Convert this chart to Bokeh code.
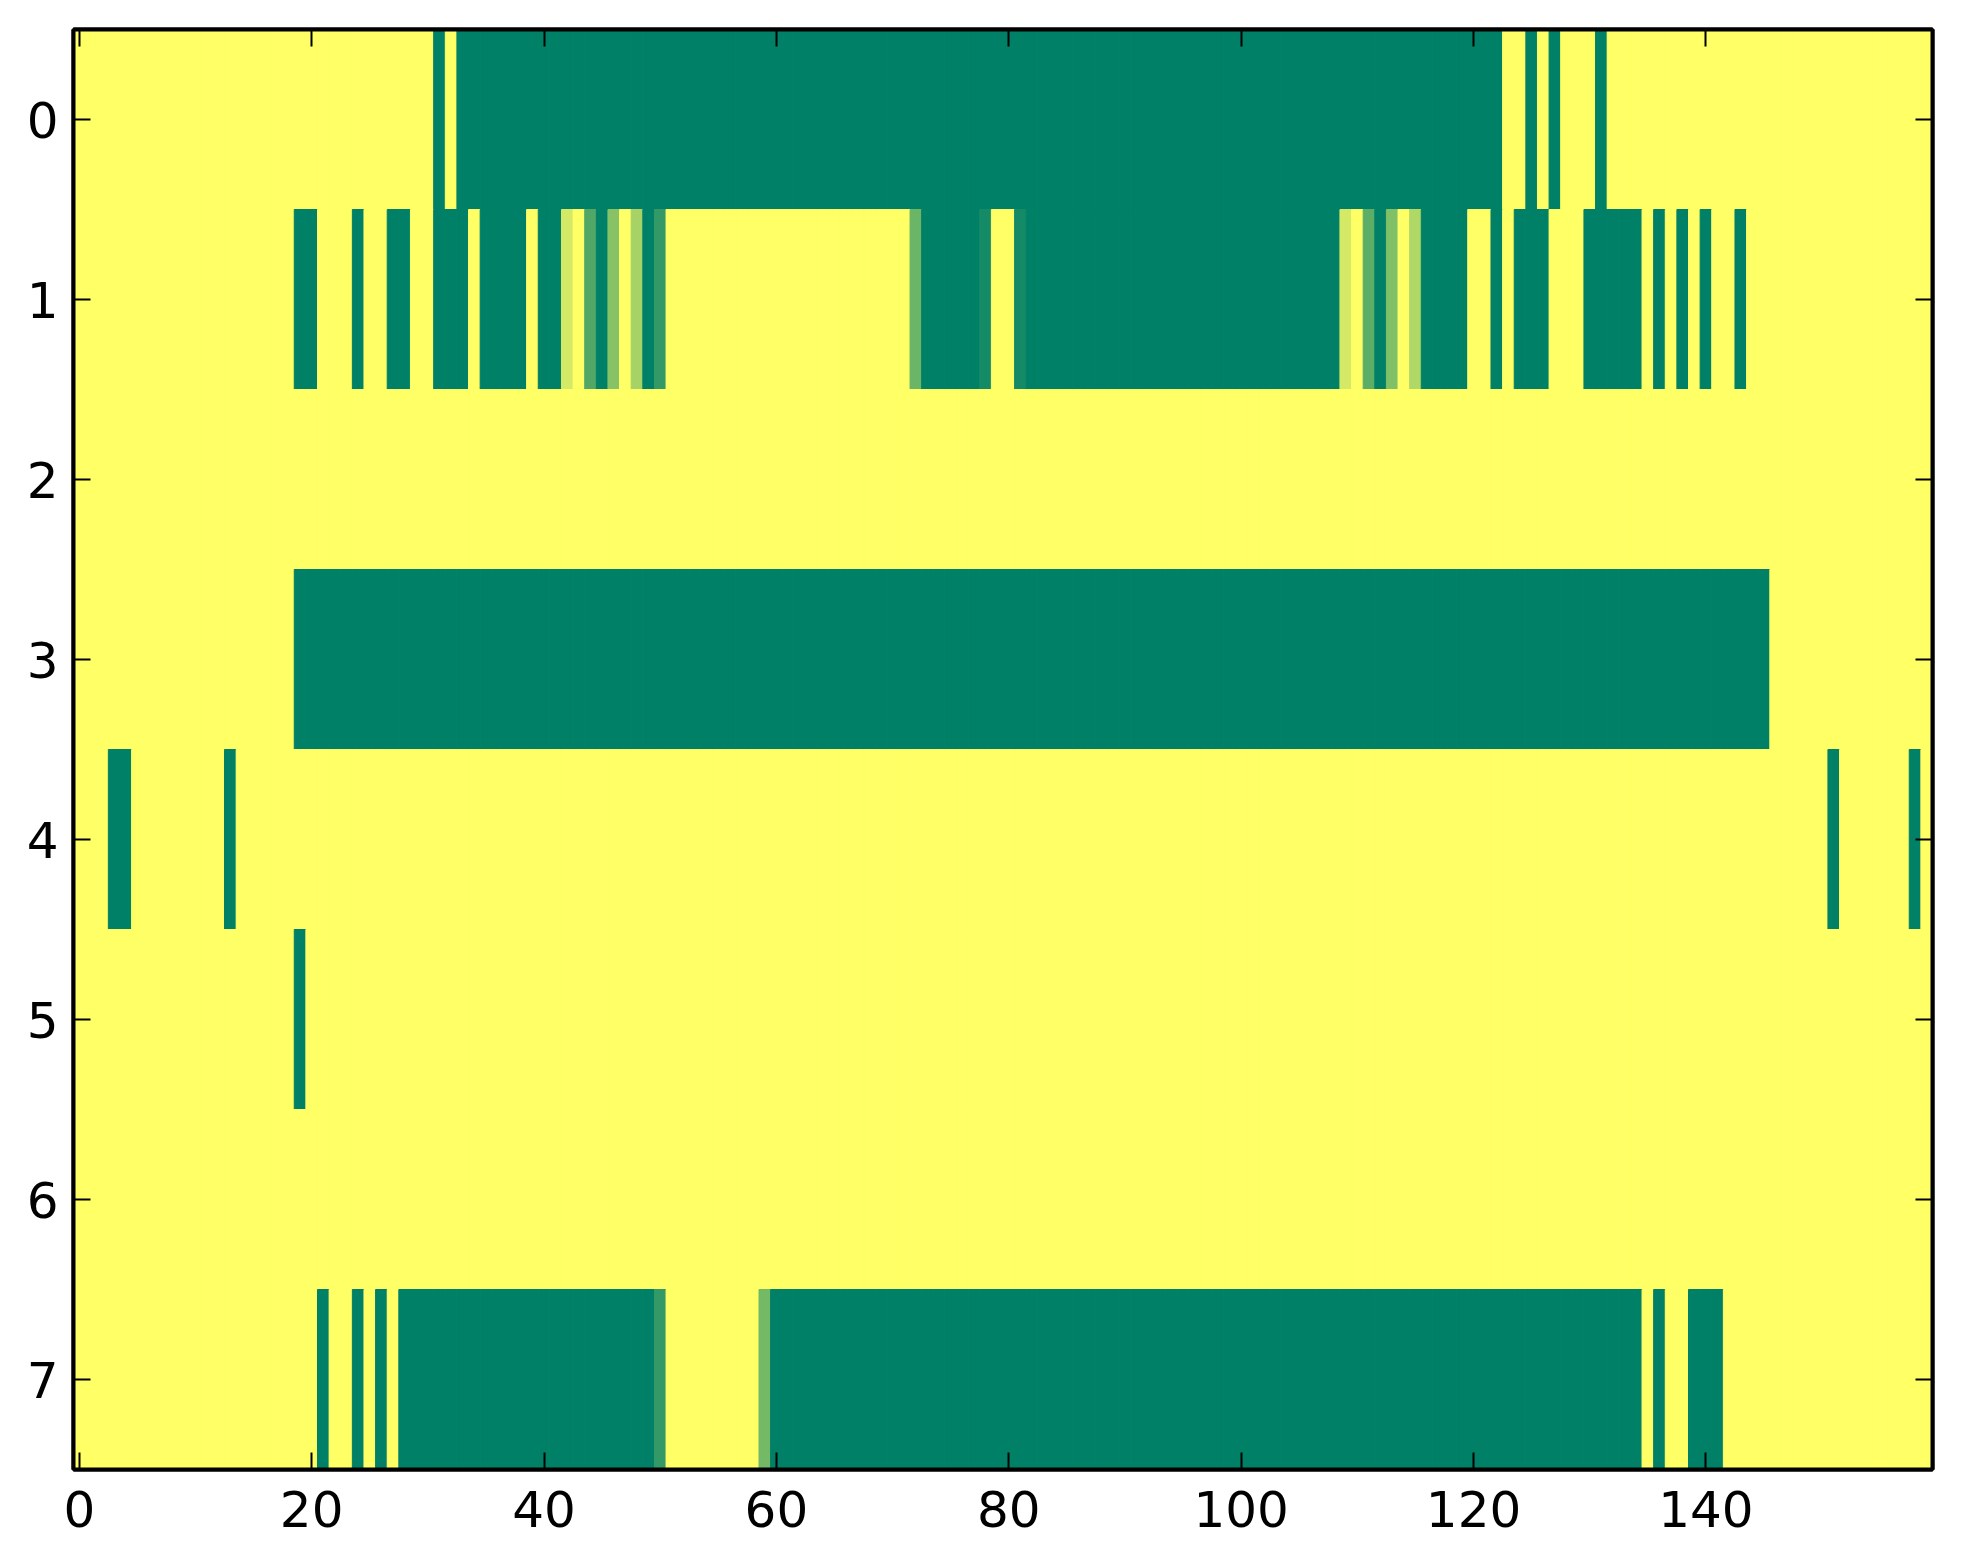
from bokeh.plotting import figure
from bokeh.models import Range1d, LinearAxis, FixedTicker, ColumnDataSource, LinearColorMapper
from bokeh.transform import transform
from bokeh.embed import file_html
from bokeh.resources import INLINE

# ---- data: 8 rows x 160 columns (values 0..1) ----
row0 = [1,1,1,1,1,1,1,1,1,1,1,1,1,1,1,1,1,1,1,1,
        1,1,1,1,1,1,1,1,1,1,1,0,1,0,0,0,0,0,0,0,
        0,0,0,0,0,0,0,0,0,0,0,0,0,0,0,0,0,0,0,0,
        0,0,0,0,0,0,0,0,0,0,0,0,0,0,0,0,0,0,0,0,
        0,0,0,0,0,0,0,0,0,0,0,0,0,0,0,0,0,0,0,0,
        0,0,0,0,0,0,0,0,0,0,0,0,0,0,0,0,0,0,0,0,
        0,0,0,1,1,0,1,0,1,1,1,0,1,1,1,1,1,1,1,1,
        1,1,1,1,1,1,1,1,1,1,1,1,1,1,1,1,1,1,1,1]
row1 = [1,1,1,1,1,1,1,1,1,1,1,1,1,1,1,1,1,1,1,0,
        0,1,1,1,0,1,1,0,0,1,1,0,0,0,1,0,0,0,0,1,
        0,0,0.83,1,0.32,0,0.53,1,0.65,0,0.2,1,1,1,1,1,1,1,1,1,
        1,1,1,1,1,1,1,1,1,1,1,1,0.42,0,0,0,0,0,0.08,1,
        1,0.08,0,0,0,0,0,0,0,0,0,0,0,0,0,0,0,0,0,0,
        0,0,0,0,0,0,0,0,0,0.83,1,0.36,0,0.5,1,0.69,0,0,0,0,
        1,1,0,1,0,0,0,1,1,1,0,0,0,0,0,1,0,1,0,1,
        0,1,1,0,1,1,1,1,1,1,1,1,1,1,1,1,1,1,1,1]
row2 = [1,1,1,1,1,1,1,1,1,1,1,1,1,1,1,1,1,1,1,1,
        1,1,1,1,1,1,1,1,1,1,1,1,1,1,1,1,1,1,1,1,
        1,1,1,1,1,1,1,1,1,1,1,1,1,1,1,1,1,1,1,1,
        1,1,1,1,1,1,1,1,1,1,1,1,1,1,1,1,1,1,1,1,
        1,1,1,1,1,1,1,1,1,1,1,1,1,1,1,1,1,1,1,1,
        1,1,1,1,1,1,1,1,1,1,1,1,1,1,1,1,1,1,1,1,
        1,1,1,1,1,1,1,1,1,1,1,1,1,1,1,1,1,1,1,1,
        1,1,1,1,1,1,1,1,1,1,1,1,1,1,1,1,1,1,1,1]
row3 = [1,1,1,1,1,1,1,1,1,1,1,1,1,1,1,1,1,1,1,0,
        0,0,0,0,0,0,0,0,0,0,0,0,0,0,0,0,0,0,0,0,
        0,0,0,0,0,0,0,0,0,0,0,0,0,0,0,0,0,0,0,0,
        0,0,0,0,0,0,0,0,0,0,0,0,0,0,0,0,0,0,0,0,
        0,0,0,0,0,0,0,0,0,0,0,0,0,0,0,0,0,0,0,0,
        0,0,0,0,0,0,0,0,0,0,0,0,0,0,0,0,0,0,0,0,
        0,0,0,0,0,0,0,0,0,0,0,0,0,0,0,0,0,0,0,0,
        0,0,0,0,0,0,1,1,1,1,1,1,1,1,1,1,1,1,1,1]
row4 = [1,1,1,0,0,1,1,1,1,1,1,1,1,0,1,1,1,1,1,1,
        1,1,1,1,1,1,1,1,1,1,1,1,1,1,1,1,1,1,1,1,
        1,1,1,1,1,1,1,1,1,1,1,1,1,1,1,1,1,1,1,1,
        1,1,1,1,1,1,1,1,1,1,1,1,1,1,1,1,1,1,1,1,
        1,1,1,1,1,1,1,1,1,1,1,1,1,1,1,1,1,1,1,1,
        1,1,1,1,1,1,1,1,1,1,1,1,1,1,1,1,1,1,1,1,
        1,1,1,1,1,1,1,1,1,1,1,1,1,1,1,1,1,1,1,1,
        1,1,1,1,1,1,1,1,1,1,1,0,1,1,1,1,1,1,0,1]
row5 = [1,1,1,1,1,1,1,1,1,1,1,1,1,1,1,1,1,1,1,0,
        1,1,1,1,1,1,1,1,1,1,1,1,1,1,1,1,1,1,1,1,
        1,1,1,1,1,1,1,1,1,1,1,1,1,1,1,1,1,1,1,1,
        1,1,1,1,1,1,1,1,1,1,1,1,1,1,1,1,1,1,1,1,
        1,1,1,1,1,1,1,1,1,1,1,1,1,1,1,1,1,1,1,1,
        1,1,1,1,1,1,1,1,1,1,1,1,1,1,1,1,1,1,1,1,
        1,1,1,1,1,1,1,1,1,1,1,1,1,1,1,1,1,1,1,1,
        1,1,1,1,1,1,1,1,1,1,1,1,1,1,1,1,1,1,1,1]
row6 = [1,1,1,1,1,1,1,1,1,1,1,1,1,1,1,1,1,1,1,1,
        1,1,1,1,1,1,1,1,1,1,1,1,1,1,1,1,1,1,1,1,
        1,1,1,1,1,1,1,1,1,1,1,1,1,1,1,1,1,1,1,1,
        1,1,1,1,1,1,1,1,1,1,1,1,1,1,1,1,1,1,1,1,
        1,1,1,1,1,1,1,1,1,1,1,1,1,1,1,1,1,1,1,1,
        1,1,1,1,1,1,1,1,1,1,1,1,1,1,1,1,1,1,1,1,
        1,1,1,1,1,1,1,1,1,1,1,1,1,1,1,1,1,1,1,1,
        1,1,1,1,1,1,1,1,1,1,1,1,1,1,1,1,1,1,1,1]
row7 = [1,1,1,1,1,1,1,1,1,1,1,1,1,1,1,1,1,1,1,1,
        1,0,1,1,0,1,0,1,0,0,0,0,0,0,0,0,0,0,0,0,
        0,0,0,0,0,0,0,0,0,0,0.2,1,1,1,1,1,1,1,1,0.45,
        0,0,0,0,0,0,0,0,0,0,0,0,0,0,0,0,0,0,0,0,
        0,0,0,0,0,0,0,0,0,0,0,0,0,0,0,0,0,0,0,0,
        0,0,0,0,0,0,0,0,0,0,0,0,0,0,0,0,0,0,0,0,
        0,0,0,0,0,0,0,0,0,0,0,0,0,0,0,1,0,1,1,0,
        0,0,1,1,1,1,1,1,1,1,1,1,1,1,1,1,1,1,1,1]
rows = [row0, row1, row2, row3, row4, row5, row6, row7]

x_ticks = [0, 20, 40, 60, 80, 100, 120, 140]
y_ticks = [0, 1, 2, 3, 4, 5, 6, 7]

# matplotlib "summer" colormap, 256 entries
def _hex(r, g, b):
    return "#%02x%02x%02x" % (int(round(r * 255)), int(round(g * 255)), int(round(b * 255)))
summer = [_hex(i / 255, 0.5 + 0.5 * i / 255, 0.4) for i in range(256)]

xs, ys, vs = [], [], []
for r, row in enumerate(rows):
    for c, v in enumerate(row):
        xs.append(c)
        ys.append(r)
        vs.append(v)
src = ColumnDataSource(dict(x=xs, y=ys, v=vs))
mapper = LinearColorMapper(palette=summer, low=0, high=1)

p = figure(frame_width=1859, frame_height=1440,
           x_range=Range1d(-0.5, 159.5), y_range=Range1d(7.5, -0.5),
           output_backend="svg", toolbar_location=None,
           min_border_left=73, min_border_right=23, min_border_top=29, min_border_bottom=80)
p.xaxis.visible = False
p.yaxis.visible = False
p.grid.visible = False
p.outline_line_color = "black"
p.outline_line_width = 4
p.background_fill_color = "white"

p.rect(x="x", y="y", width=1, height=1, source=src,
       fill_color=transform("v", mapper), line_color=transform("v", mapper), line_width=1)

FONT = "DejaVu Sans"
def make_axis(ticks, labels=True):
    ax = LinearAxis(ticker=FixedTicker(ticks=ticks))
    ax.axis_line_color = "black"
    ax.axis_line_width = 4
    ax.major_tick_in = 17
    ax.major_tick_out = 0
    ax.major_tick_line_width = 2
    ax.major_tick_line_color = "black"
    ax.minor_tick_line_color = None
    ax.major_label_text_font = FONT
    if labels:
        ax.major_label_text_font_size = "50px"
        ax.major_label_text_color = "black"
    else:
        ax.major_label_text_font_size = "1px"
        ax.major_label_text_color = None
        ax.major_label_standoff = 0
    return ax

bottom = make_axis(x_ticks)
bottom.major_label_standoff = 21
left = make_axis(y_ticks)
left.major_label_standoff = 15
top = make_axis(x_ticks, labels=False)
right = make_axis(y_ticks, labels=False)
p.add_layout(bottom, "below")
p.add_layout(left, "left")
p.add_layout(top, "above")
p.add_layout(right, "right")

open("out.html", "w").write(file_html(p, INLINE))
